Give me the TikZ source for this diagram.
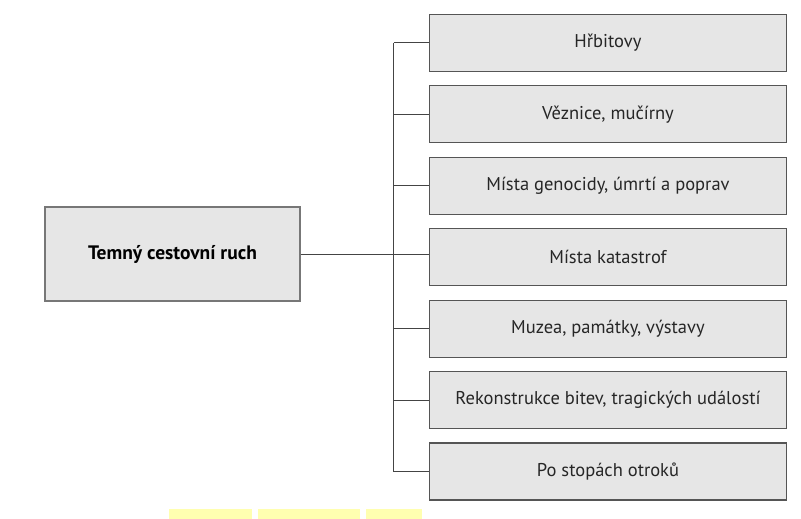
\documentclass[tikz,border=0pt]{standalone}
\usepackage{fontspec}
\setmainfont{PT Sans}
\definecolor{boxfill}{HTML}{E6E6E6}
\definecolor{boxline}{HTML}{555555}
\definecolor{linecol}{HTML}{444444}
\definecolor{hl}{HTML}{FFFFB0}
\begin{document}
\begin{tikzpicture}[x=1pt,y=-1pt,
  catbox/.style={draw=boxline, fill=boxfill, line width=1.1pt, minimum width=357pt, minimum height=57pt, inner sep=0pt, font=\fontsize{18.5}{20}\selectfont, text=black!85},
  mainbox/.style={draw=boxline!80, fill=boxfill, line width=1.1pt, minimum width=255pt, minimum height=94pt, inner sep=0pt, font=\fontsize{19.5}{21}\selectfont\bfseries, text=black},
  conn/.style={draw=linecol, line width=0.9pt}]
\useasboundingbox (0,0) rectangle (801,519);
\node[mainbox] (main) at (172.5,254) {Temný cestovní ruch};
\node[catbox] (b1) at (608,42.7) {Hřbitovy};
\node[catbox] (b2) at (608,114.2) {Věznice, mučírny};
\node[catbox] (b3) at (608,185.7) {Místa genocidy, úmrtí a poprav};
\node[catbox] (b4) at (608,257.2) {Místa katastrof};
\node[catbox] (b5) at (608,328.7) {Muzea, památky, výstavy};
\node[catbox] (b6) at (608,400.2) {Rekonstrukce bitev, tragických událostí};
\node[catbox] (b7) at (608,471.5) {Po stopách otroků};
\coordinate (trunk) at (393.5,0);
\draw[conn] (b1.west -| trunk) -- (b7.west -| trunk);
\foreach \b in {b1,b2,b3,b5,b6,b7} {\draw[conn] (\b.west) -- (\b.west -| trunk);}
\draw[conn] (main.east) -- (main.east -| b4.west);
\fill[hl] (169,509) rectangle (252,519);
\fill[hl] (258,509) rectangle (360,519);
\fill[hl] (366,509) rectangle (422,519);
\end{tikzpicture}
\end{document}
